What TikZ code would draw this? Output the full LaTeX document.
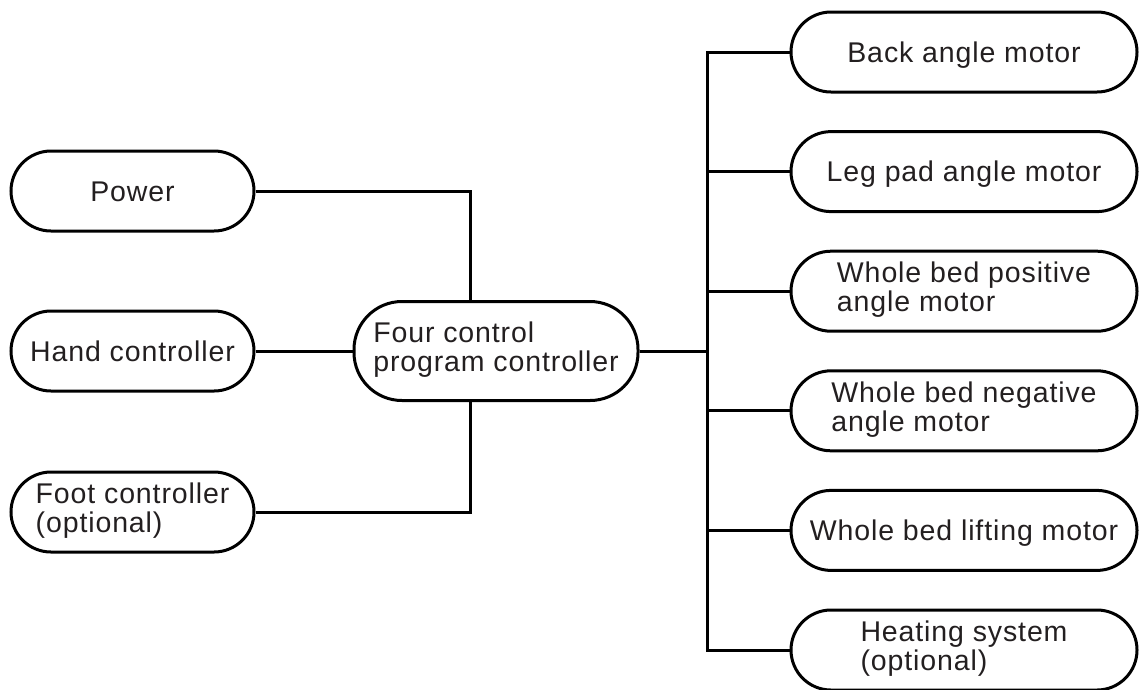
\documentclass[tikz,border=0pt]{standalone}
\usepackage{fontspec}
\setmainfont{Liberation Sans}[LetterSpace=3.1]
\usetikzlibrary{calc}
\definecolor{txt}{HTML}{231F20}
\newcommand{\twolines}[2]{\vtop{\baselineskip=29pt\lineskiplimit=-100pt\hbox{#1}\hbox{#2}}}
\begin{document}
\begin{tikzpicture}[x=1pt,y=-1pt,
  box/.style={draw=black, line width=3pt, rounded corners=40pt, minimum height=80pt,
    inner sep=0pt, text=txt, font=\fontsize{28.5}{29}\selectfont,
    text height=20.4pt, text depth=0pt},
  lbox/.style={box, minimum width=243pt},
  rbox/.style={box, minimum width=346pt},
  two/.style={text depth=37.2pt},
  wire/.style={line width=3pt, line join=miter}]
\useasboundingbox (0,0) rectangle (1139,689);

\node[lbox] (power) at (132.5,191) {Power};
\node[lbox] (hand) at (132.5,351) {Hand controller};
\node[lbox,two] (foot) at (132.5,512) {\twolines{Foot controller}{(optional)}};

\node[box,two,minimum width=284pt,minimum height=99pt,rounded corners=48pt] (ctrl) at (496,351)
  {\twolines{Four control}{program controller}};

\node[rbox] (m1) at (964,52) {Back angle motor};
\node[rbox] (m2) at (964,171.6) {Leg pad angle motor};
\node[rbox,two] (m3) at (964,291.2) {\twolines{Whole bed positive}{angle motor}};
\node[rbox,two] (m4) at (964,410.8) {\twolines{Whole bed negative}{angle motor}};
\node[rbox] (m5) at (964,530.4) {Whole bed lifting motor};
\node[rbox,two] (m6) at (964,650) {\twolines{Heating system}{(optional)}};

\coordinate (jx) at (470,0);
\coordinate (bus) at (707,351);

\draw[wire] (power.east) -| (ctrl.north -| jx);
\draw[wire] (hand.east) -- (ctrl.west);
\draw[wire] (foot.east) -| (ctrl.south -| jx);
\draw[wire] (ctrl.east) -- (bus);
\draw[wire] (m1.west) -- (m1.west -| bus) -- (m6.west -| bus) -- (m6.west);
\foreach \m in {m2,m3,m4,m5} \draw[wire] (\m.west) -- (\m.west -| bus);
\end{tikzpicture}
\end{document}
